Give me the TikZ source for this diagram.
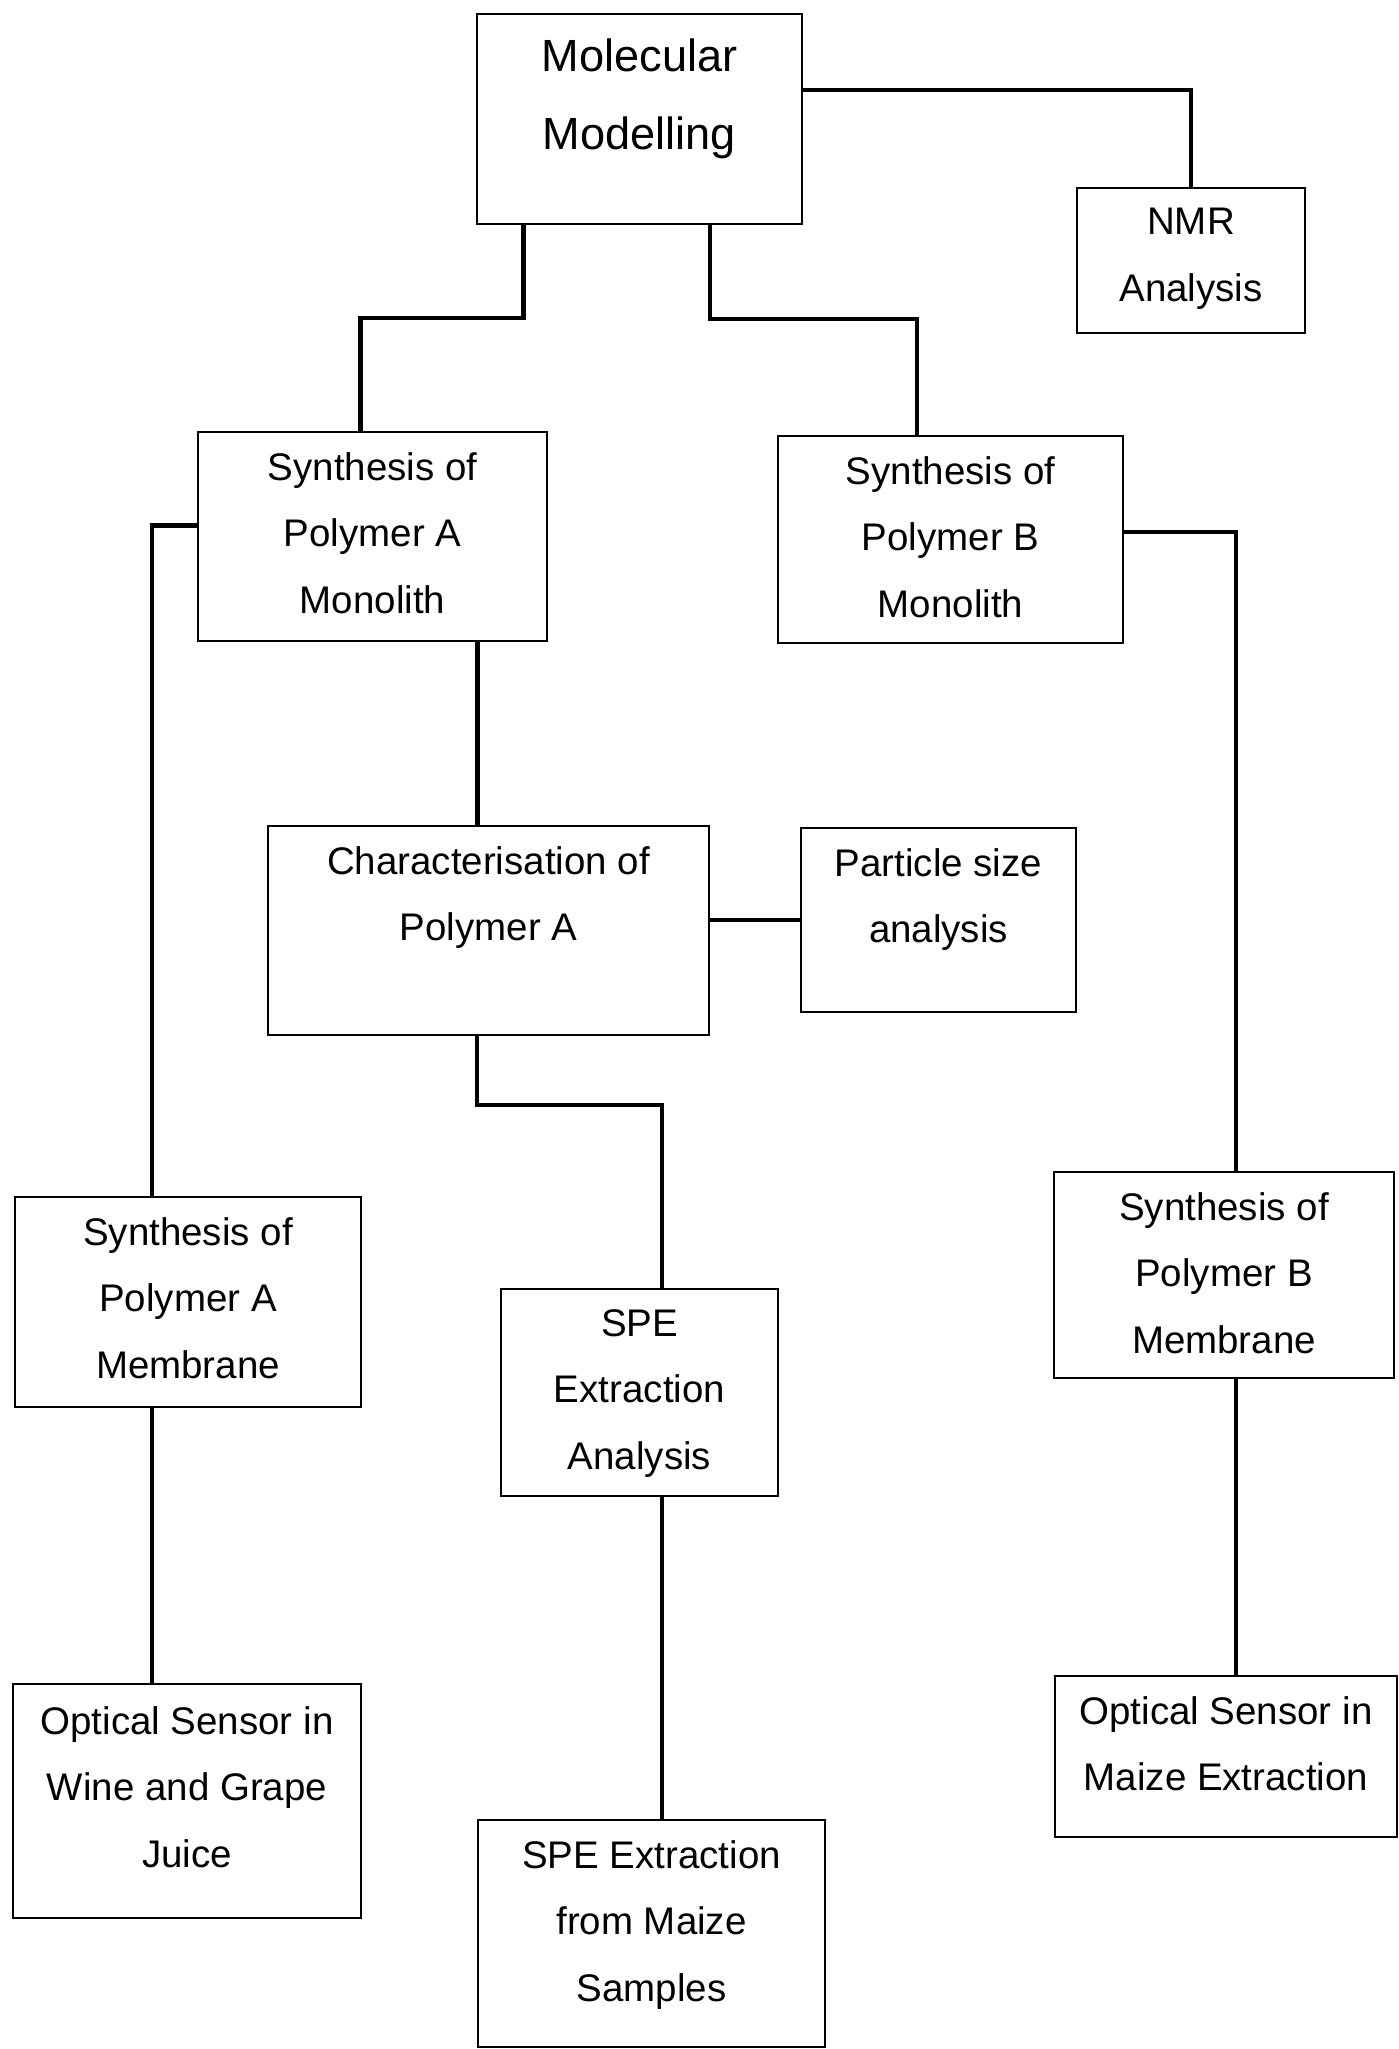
\documentclass[tikz,border=0pt]{standalone}
\usepackage{fontspec}
\setmainfont{Liberation Sans}
\usetikzlibrary{positioning}

\begin{document}
\begin{tikzpicture}[x=1in,y=1in]

% canvas
\fill[white] (0,0) rectangle (6.995,10.245);
\useasboundingbox (0,0) rectangle (6.995,10.245);

\tikzset{
  box/.style={
    draw=black,
    line width=0.9pt,
    inner sep=0pt
  },
  boxtext/.style={
    align=center,
    inner sep=0pt,
    font=\fontsize{13.9}{24.1}\selectfont
  },
  link/.style={
    draw=black,
    line width=1.5pt
  }
}

% boxes
\node[box,minimum width=1.625in,minimum height=1.05in]  (mm)   at (3.1975,9.65)   {};
\node[box,minimum width=1.14in,minimum height=0.725in]  (nmr)  at (5.955,8.9425)  {};
\node[box,minimum width=1.745in,minimum height=1.045in] (synA) at (1.8625,7.5625) {};
\node[box,minimum width=1.725in,minimum height=1.035in] (synB) at (4.7525,7.5475) {};
\node[box,minimum width=2.205in,minimum height=1.045in] (char) at (2.4425,5.5925) {};
\node[box,minimum width=1.375in,minimum height=0.92in]  (psa)  at (4.6925,5.645)  {};
\node[box,minimum width=1.73in,minimum height=1.05in]   (memA) at (0.94,3.735)    {};
\node[box,minimum width=1.385in,minimum height=1.035in] (spe)  at (3.1975,3.2825) {};
\node[box,minimum width=1.70in,minimum height=1.03in]   (memB) at (6.12,3.87)     {};
\node[box,minimum width=1.74in,minimum height=1.17in]   (optA) at (0.935,1.24)    {};
\node[box,minimum width=1.735in,minimum height=1.135in] (speM) at (3.2575,0.5775) {};
\node[box,minimum width=1.71in,minimum height=0.805in]  (optB) at (6.13,1.4625)   {};

% box texts
\node[boxtext,font=\fontsize{16.3}{28.1}\selectfont,below=0.13in of mm.north] (mmtext)
  {Molecular\\Modelling};
\node[boxtext,below=0.105in of nmr.north]  (nmrtext)  {NMR\\Analysis};
\node[boxtext,below=0.105in of synA.north] (synAtext) {Synthesis of\\Polymer A\\Monolith};
\node[boxtext,below=0.105in of synB.north] (synBtext) {Synthesis of\\Polymer B\\Monolith};
\node[boxtext,below=0.105in of char.north] (chartext) {Characterisation of\\Polymer A};
\node[boxtext,below=0.105in of psa.north]  (psatext)  {Particle size\\analysis};
\node[boxtext,below=0.105in of memA.north] (memAtext) {Synthesis of\\Polymer A\\Membrane};
\node[boxtext,below=0.105in of spe.north]  (spetext)  {SPE\\Extraction\\Analysis};
\node[boxtext,below=0.105in of memB.north] (memBtext) {Synthesis of\\Polymer B\\Membrane};
\node[boxtext,below=0.115in of optA.north] (optAtext) {Optical Sensor in\\Wine and Grape\\Juice};
\node[boxtext,below=0.105in of speM.north] (speMtext) {SPE Extraction\\from Maize\\Samples};
\node[boxtext,below=0.105in of optB.north] (optBtext) {Optical Sensor in\\Maize Extraction};

% connectors
\draw[link] ([yshift=0.145in]mm.east) -| (nmr.north);
\draw[link] ([xshift=-0.58in]mm.south) -- ++(0,-0.465) -| ([xshift=-0.06in]synA.north);
\draw[link] ([xshift=0.3525in]mm.south) -- ++(0,-0.47) -| ([xshift=-0.1675in]synB.north);
\draw[link] ([yshift=0.055in]synA.west) -| ([xshift=-0.18in]memA.north);
\draw[link] ([xshift=0.525in]synA.south) -- ([xshift=0.525in]synA.south |- char.north);
\draw[link] (psa.west -| char.east) -- (psa.west);
\draw[link] ([xshift=-0.0575in]char.south) -- ++(0,-0.345) -| ([xshift=0.1125in]spe.north);
\draw[link] ([yshift=0.0375in]synB.east) -| ([xshift=0.06in]memB.north);
\draw[link] ([xshift=-0.18in]memA.south) -- ([xshift=-0.18in]memA.south |- optA.north);
\draw[link] ([xshift=0.1125in]spe.south) -- ([xshift=0.1125in]spe.south |- speM.north);
\draw[link] ([xshift=0.06in]memB.south) -- ([xshift=0.06in]memB.south |- optB.north);

\end{tikzpicture}
\end{document}
